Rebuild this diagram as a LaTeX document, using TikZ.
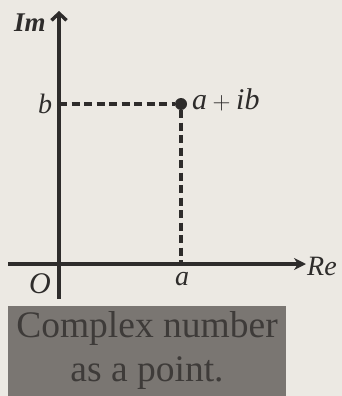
\documentclass[tikz,border=0pt]{standalone}
\usepackage{fontspec}
\setmainfont{Liberation Serif}
\usetikzlibrary{arrows.meta}
\definecolor{paper}{HTML}{ECE9E3}
\definecolor{ink}{HTML}{2E2C2B}
\definecolor{boxgray}{HTML}{7A7672}
\definecolor{boxtext}{HTML}{3E3B39}
\tikzset{
  axis/.style={draw=ink, line width=3.4pt},
  guide/.style={draw=ink, line width=3.4pt, dash pattern=on 8pt off 4.5pt},
  lbl/.style={text=ink, font=\fontsize{28}{32}\selectfont\itshape, inner sep=0pt},
  caption/.style={text=boxtext, font=\fontsize{37.5}{44}\selectfont, inner sep=0pt, align=center}
}
\begin{document}
\begin{tikzpicture}[x=1pt,y=-1pt]
\fill[paper] (0,0) rectangle (342,396);
\useasboundingbox (0,0) rectangle (342,396);
% axes
\coordinate (vbot) at (59,299);
\coordinate (vtop) at (59,11);
\coordinate (hleft) at (8,264);
\coordinate (hright) at (306,264);
\draw[axis, -{Straight Barb[length=7pt,width=15pt,line width=3.4pt]}] (vbot) -- (vtop);
\draw[axis, -{Stealth[length=12pt,width=12pt]}] (hleft) -- (hright);
% point and guides
\coordinate (bpt) at (59,104);
\coordinate (apt) at (181,264);
\node[circle, fill=ink, inner sep=0pt, minimum size=12pt] (P) at (181,104) {};
\draw[guide] (bpt) -- (P);
\draw[guide] (P) -- (apt);
% labels
\node[lbl, font=\fontsize{27}{30}\selectfont\bfseries\itshape] (im) at (30,23) {Im};
\node[lbl] (bl) at (45,104) {b};
\node[lbl, anchor=west, font=\fontsize{30}{34}\selectfont\itshape] (z) at (192,100) {$\mathit{a}+\mathit{ib}$};
\node[lbl] (al) at (182,279) {a};
\node[lbl, font=\fontsize{30}{34}\selectfont\itshape] (ol) at (40,284) {O};
\node[lbl, anchor=west] (re) at (307,266) {Re};
% caption box
\fill[boxgray] (8,306) rectangle (286,396);
\node[caption] (cap) at (147,350) {Complex number\\as a point.};
\end{tikzpicture}
\end{document}
